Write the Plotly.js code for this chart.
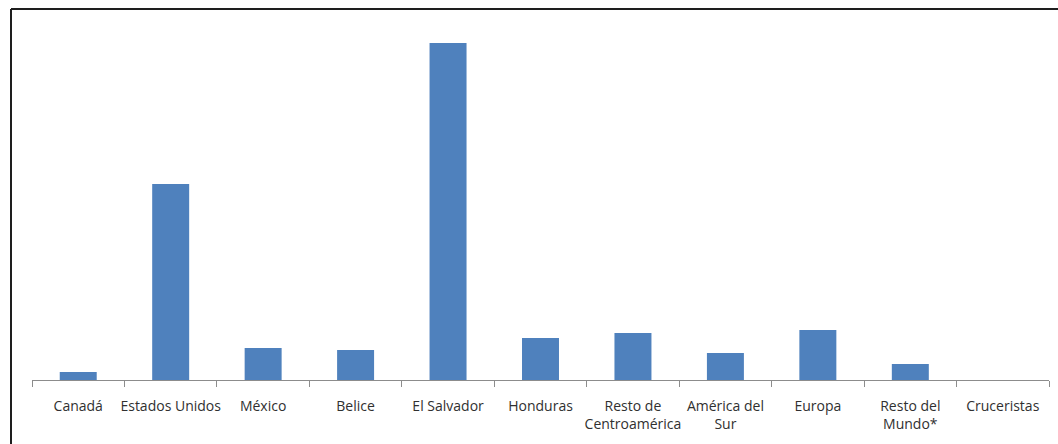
<!DOCTYPE html>
<html>
<head>
<meta charset="utf-8">
<script src="https://cdn.plot.ly/plotly-3.0.1.min.js"></script>
<style>html,body{margin:0;padding:0;background:#fff;}#chart{width:1058px;height:444px;}</style>
</head>
<body>
<div id="chart"></div>
<script>
const categories = ["Canadá", "Estados Unidos", "México", "Belice", "El Salvador", "Honduras",
  "Resto de<br>Centroamérica", "América del<br>Sur", "Europa", "Resto del<br>Mundo*", "Cruceristas"];
const values = [8, 196, 32, 30, 337, 42, 47, 27, 50, 16, 0];

const trace = {
  type: 'bar',
  x: categories,
  y: values,
  marker: {color: '#4F81BD', line: {width: 0}},
  hoverinfo: 'x+y'
};

const layout = {
  width: 1058,
  height: 444,
  margin: {l: 32, r: 9, t: 20, b: 64, pad: 0},
  paper_bgcolor: '#ffffff',
  plot_bgcolor: '#ffffff',
  showlegend: false,
  bargap: 0.6,
  font: {family: '"Open Sans", "DejaVu Sans Condensed", sans-serif', size: 14, color: '#303030'},
  xaxis: {
    type: 'category',
    showline: true,
    linecolor: '#8c8c8c',
    linewidth: 1,
    ticks: 'outside',
    tickson: 'boundaries',
    ticklen: 6,
    tickcolor: '#8c8c8c',
    ticklabelstandoff: 13,
    showgrid: false,
    zeroline: false,
    tickangle: 0,
    tickfont: {size: 14, color: '#303030'}
  },
  yaxis: {
    range: [0, 360],
    showticklabels: false,
    showgrid: false,
    zeroline: false,
    showline: false,
    ticks: ''
  },
  shapes: [
    {type: 'line', xref: 'paper', yref: 'paper', x0: (11 - 32) / 1017, x1: 1.1, y0: (380 - 9) / 360, y1: (380 - 9) / 360,
     line: {color: '#1e1e1e', width: 2}},
    {type: 'line', xref: 'paper', yref: 'paper', x0: (11 - 32) / 1017, x1: (11 - 32) / 1017, y0: (380 - 9) / 360, y1: -0.3,
     line: {color: '#1e1e1e', width: 2}}
  ]
};

Plotly.newPlot('chart', [trace], layout, {displayModeBar: false, staticPlot: true});
</script>
</body>
</html>
